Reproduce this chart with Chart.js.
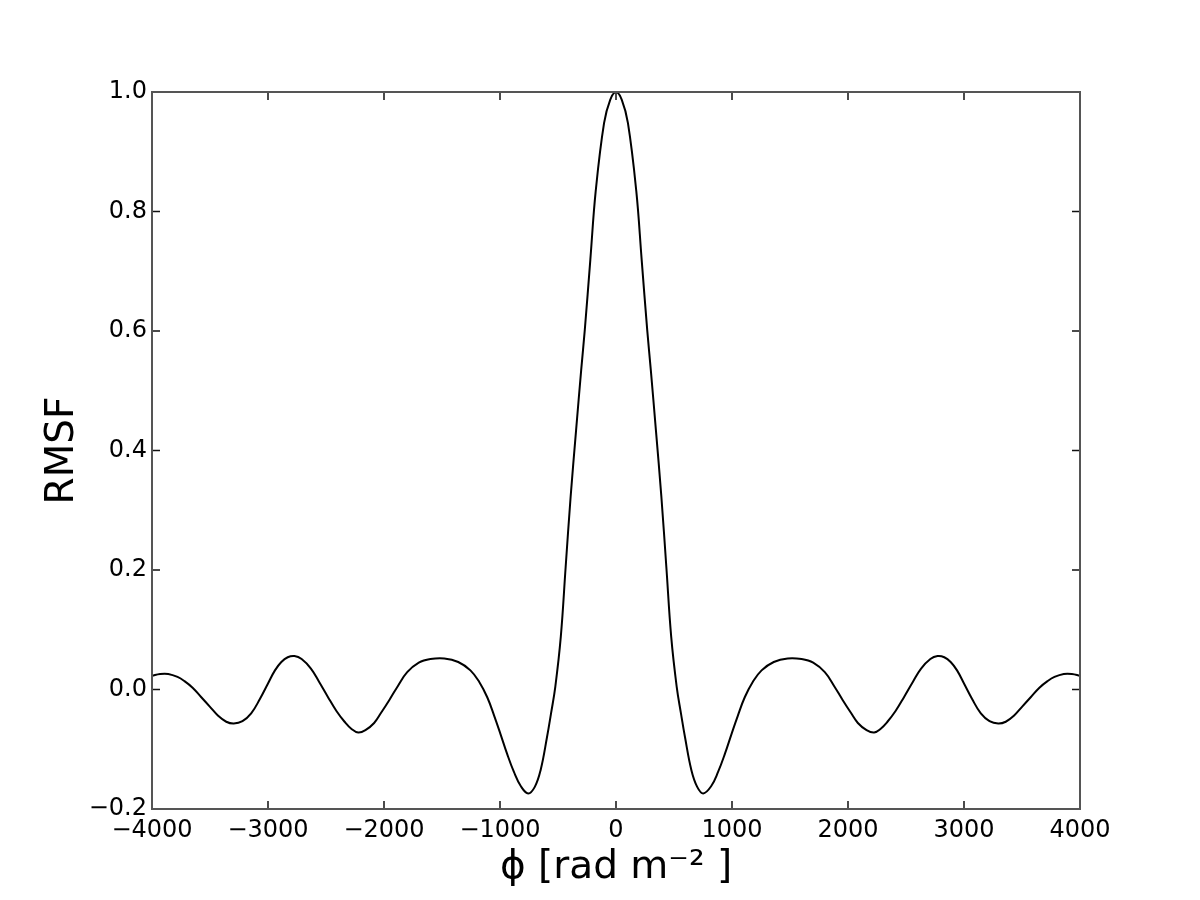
<!DOCTYPE html>
<html>
<head>
<meta charset="utf-8">
<script src="https://cdn.jsdelivr.net/npm/chart.js@4.4.1/dist/chart.umd.min.js"></script>
<style>
  body { margin: 0; background: #fff; }
  #wrap { width: 1200px; height: 900px; }
</style>
</head>
<body>
<div id="wrap"><canvas id="rmsf" width="1200" height="900"></canvas></div>
<script>
// Faraday depth (rad m^-2) and RMSF
const phi = [
  -4000, -3930, -3860, -3780, -3720, -3650, -3575, -3500, -3430, -3360,
  -3295, -3220, -3145, -3070, -3000, -2940, -2885, -2830, -2772, -2710,
  -2630, -2560, -2485, -2410, -2340, -2280, -2222, -2160, -2085, -2025,
  -1955, -1880, -1800, -1700, -1600, -1480, -1360, -1255, -1180, -1110,
  -1050, -995, -940, -880, -820, -757, -700, -650, -595, -560,
  -523, -476, -434, -391, -344, -300, -269, -221, -175, -103,
  -50, 0,
  50, 103, 175, 221, 269, 300, 344, 391, 434, 476,
  523, 560, 595, 650, 700, 752, 820, 880, 940, 995,
  1050, 1110, 1180, 1255, 1360, 1480, 1600, 1700, 1800, 1880,
  1955, 2025, 2085, 2160, 2225, 2280, 2340, 2410, 2485, 2560,
  2630, 2710, 2772, 2830, 2885, 2940, 3000, 3070, 3145, 3220,
  3295, 3360, 3430, 3500, 3575, 3650, 3720, 3780, 3860, 3930,
  4000
];
const rmsf = [
  0.023, 0.026, 0.026, 0.021, 0.014, 0.003, -0.013, -0.029, -0.044, -0.054,
  -0.057, -0.053, -0.040, -0.016, 0.010, 0.032, 0.046, 0.054, 0.056, 0.051,
  0.035, 0.013, -0.012, -0.036, -0.054, -0.066, -0.072, -0.068, -0.056, -0.039,
  -0.018, 0.006, 0.029, 0.045, 0.051, 0.052, 0.046, 0.032, 0.013, -0.013,
  -0.044, -0.075, -0.107, -0.138, -0.162, -0.174, -0.163, -0.135, -0.080, -0.040,
  0.005, 0.088, 0.205, 0.323, 0.434, 0.535, 0.602, 0.720, 0.834, 0.948,
  0.987, 1.000,
  0.987, 0.948, 0.834, 0.720, 0.602, 0.535, 0.434, 0.323, 0.205, 0.088,
  0.005, -0.040, -0.080, -0.135, -0.163, -0.174, -0.162, -0.138, -0.107, -0.075,
  -0.044, -0.013, 0.013, 0.032, 0.046, 0.052, 0.051, 0.045, 0.029, 0.006,
  -0.018, -0.039, -0.056, -0.068, -0.072, -0.066, -0.054, -0.036, -0.012, 0.013,
  0.035, 0.051, 0.056, 0.054, 0.046, 0.032, 0.010, -0.016, -0.040, -0.053,
  -0.057, -0.054, -0.044, -0.029, -0.013, 0.003, 0.014, 0.021, 0.026, 0.026,
  0.023
];
const xTicks = [-4000, -3000, -2000, -1000, 0, 1000, 2000, 3000, 4000];
const yTicks = [-0.2, 0.0, 0.2, 0.4, 0.6, 0.8, 1.0];

const FONT = "'DejaVu Sans', sans-serif";
const minus = s => s.replace('-', '\u2212');

// matplotlib style: frame on all sides, ticks pointing inwards
const frameTicks = {
  id: 'frameTicks',
  afterDraw(chart) {
    const ctx = chart.ctx, a = chart.chartArea;
    const xs = chart.scales.x, ys = chart.scales.y;
    const len = 8;
    ctx.save();
    ctx.strokeStyle = '#111';
    ctx.lineWidth = 1.5;
    ctx.beginPath();
    xs.ticks.forEach(t => {
      const px = xs.getPixelForValue(t.value);
      ctx.moveTo(px, a.bottom); ctx.lineTo(px, a.bottom - len);
      ctx.moveTo(px, a.top); ctx.lineTo(px, a.top + len);
    });
    ys.ticks.forEach(t => {
      const py = ys.getPixelForValue(t.value);
      ctx.moveTo(a.left, py); ctx.lineTo(a.left + len, py);
      ctx.moveTo(a.right, py); ctx.lineTo(a.right - len, py);
    });
    ctx.stroke();
    ctx.strokeStyle = '#555';
    ctx.lineWidth = 2;
    ctx.strokeRect(a.left, a.top, a.right - a.left, a.bottom - a.top);
    ctx.restore();
  }
};

new Chart(document.getElementById('rmsf'), {
  type: 'line',
  data: {
    datasets: [{
      data: phi.map((p, i) => ({ x: p, y: rmsf[i] })),
      borderColor: '#000',
      borderWidth: 2,
      pointRadius: 0,
      tension: 0.4,
      fill: false
    }]
  },
  options: {
    responsive: false,
    animation: false,
    layout: { padding: { left: 0, right: 120, top: 92, bottom: 0 } },
    plugins: { legend: { display: false }, tooltip: { enabled: false } },
    scales: {
      x: {
        type: 'linear',
        min: -4000,
        max: 4000,
        afterBuildTicks: s => { s.ticks = xTicks.map(v => ({ value: v })); },
        afterFit: s => { s.height = 91; },
        grid: { display: false, drawTicks: false },
        border: { display: false },
        ticks: {
          padding: 7,
          maxRotation: 0,
          autoSkip: false,
          color: '#000',
          font: { family: FONT, size: 24 },
          callback: v => minus(String(v))
        },
        title: {
          display: true,
          text: '\u03D5 [rad m\u207B\u00B2 ]',
          color: '#000',
          font: { family: FONT, size: 39 },
          padding: { top: 0, bottom: 9 }
        }
      },
      y: {
        min: -0.2,
        max: 1.0,
        afterBuildTicks: s => { s.ticks = yTicks.map(v => ({ value: v })); },
        afterFit: s => { s.width = 152; },
        grid: { display: false, drawTicks: false },
        border: { display: false },
        ticks: {
          padding: 5,
          color: '#000',
          font: { family: FONT, size: 24 },
          callback: v => minus(Number(v).toFixed(1))
        },
        title: {
          display: true,
          text: 'RMSF',
          color: '#000',
          font: { family: FONT, size: 39 },
          padding: { top: 39, bottom: 0 }
        }
      }
    }
  },
  plugins: [frameTicks]
});
</script>
</body>
</html>
